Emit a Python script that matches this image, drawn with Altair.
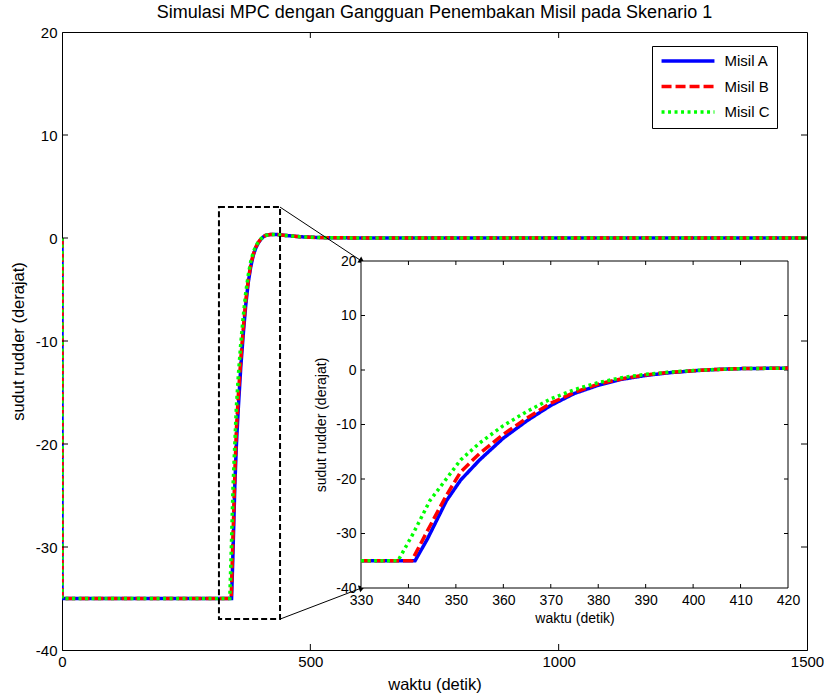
import altair as alt
import pandas as pd

# ---------------- data ----------------
series_names = ["Misil A", "Misil B", "Misil C"]
series_colors = ["#0000ff", "#ff0000", "#00ff00"]
series_dash = [[1, 0], [10, 4], [3, 3.5]]

t_A = [0, 0, 330, 341.4, 344, 348, 351, 355, 360, 365, 370, 375, 380, 385, 390, 395, 400, 405, 410, 420, 430, 450, 480, 520, 600, 1500]
v_A = [0, -35, -35, -35, -31, -24, -20.2, -16.5, -12.5, -9.3, -6.5, -4.3, -2.8, -1.7, -1.0, -0.5, -0.15, 0.1, 0.25, 0.35, 0.35, 0.25, 0.12, 0.04, 0, 0]
t_B = [0, 0, 330, 340.7, 344, 348, 351, 355, 360, 365, 370, 375, 380, 385, 390, 395, 400, 405, 410, 420, 430, 450, 480, 520, 600, 1500]
v_B = [0, -35, -35, -35, -29.5, -23, -18.7, -15.3, -11.8, -8.8, -6.1, -4.1, -2.6, -1.6, -0.9, -0.45, -0.12, 0.1, 0.25, 0.35, 0.35, 0.25, 0.12, 0.04, 0, 0]
t_C = [0, 0, 330, 337.8, 341, 344.5, 351, 355, 360, 365, 370, 375, 380, 385, 390, 395, 400, 405, 410, 420, 430, 450, 480, 520, 600, 1500]
v_C = [0, -35, -35, -35, -30, -24, -16.5, -13.4, -10.2, -7.6, -5.3, -3.6, -2.3, -1.4, -0.8, -0.4, -0.1, 0.1, 0.25, 0.35, 0.35, 0.25, 0.12, 0.04, 0, 0]

main_x_ticks = [0, 500, 1000, 1500]
main_y_ticks = [-40, -30, -20, -10, 0, 10, 20]
main_x_inner = [500, 1000]
main_y_inner = [-30, -20, -10, 0, 10]

inset_x_ticks = [330, 340, 350, 360, 370, 380, 390, 400, 410, 420]
inset_y_ticks = [-40, -30, -20, -10, 0, 10, 20]
inset_x_inner = [340, 350, 360, 370, 380, 390, 400, 410]
inset_y_inner = [-30, -20, -10, 0, 10]

zoom_box_t = [316, 439]
zoom_box_v = [-37, 3]
arrow_t0 = [439, 439]
arrow_v0 = [3, -37]
arrow_t1 = [602, 602]
arrow_v1 = [-2.2, -34.0]
arrow_angle = [123, 70]

title_text = "Simulasi MPC dengan Gangguan Penembakan Misil pada Skenario 1"

# ---------------- tables ----------------
rows = []
for name, ts, vs in zip(series_names, [t_A, t_B, t_C], [v_A, v_B, v_C]):
    for i, (t, v) in enumerate(zip(ts, vs)):
        rows.append({"series": name, "t": t, "v": v, "i": i})
df = pd.DataFrame(rows)
df_inset = df[(df.t >= 330) & (df.t <= 420)]

W, H = 745, 618
FONT = "Liberation Sans"
NUM = "'' + datum.value"

color_enc = alt.Color(
    "series:N",
    scale=alt.Scale(domain=series_names, range=series_colors),
    legend=alt.Legend(
        title=None, orient="none", legendX=590, legendY=14,
        symbolType="stroke", symbolSize=2800, symbolStrokeWidth=3.5,
        clipHeight=15,
        labelFontSize=15, labelFont=FONT, labelColor="black",
        labelExpr="datum.label + '\\u00a0\\u00a0\\u00a0'",
        strokeColor="black", fillColor="white", padding=7.5,
        rowPadding=9.5, labelOffset=8, cornerRadius=0,
    ),
)
dash_enc = alt.StrokeDash(
    "series:N", scale=alt.Scale(domain=series_names, range=series_dash), legend=None
)

# ---------------- main chart ----------------
mx_scale = alt.Scale(domain=[0, 1500], nice=False, zero=False)
my_scale = alt.Scale(domain=[-40, 20], nice=False, zero=False)

main_lines = alt.Chart(df).mark_line(strokeWidth=3.5, clip=True).encode(
    x=alt.X("t:Q", scale=mx_scale, axis=alt.Axis(
        values=main_x_ticks, title="waktu (detik)", ticks=False, labelFlush=False,
        labelOverlap=False, labelExpr=NUM, labelFontSize=15, titleFontSize=16.5,
        labelPadding=4, titlePadding=7, zindex=0, grid=False)),
    y=alt.Y("v:Q", scale=my_scale, axis=alt.Axis(
        values=main_y_ticks, title="sudut rudder (derajat)", ticks=False, labelFlush=False,
        labelOverlap=False, labelExpr=NUM, labelFontSize=15, titleFontSize=16.5,
        labelPadding=5, titlePadding=9, zindex=0, grid=False)),
    color=color_enc,
    strokeDash=dash_enc,
    order="i:Q",
)

mxt = pd.DataFrame({"t": main_x_inner})
myt = pd.DataFrame({"v": main_y_inner})
tick_bottom = alt.Chart(mxt).mark_rule(color="black", y2Offset=-6).encode(
    x="t:Q", y=alt.datum(-40), y2=alt.datum(-40))
tick_top = alt.Chart(mxt).mark_rule(color="black", y2Offset=6).encode(
    x="t:Q", y=alt.datum(20), y2=alt.datum(20))
tick_left = alt.Chart(myt).mark_rule(color="black", x2Offset=6).encode(
    y="v:Q", x=alt.datum(0), x2=alt.datum(0))
tick_right = alt.Chart(myt).mark_rule(color="black", x2Offset=-6).encode(
    y="v:Q", x=alt.datum(1500), x2=alt.datum(1500))

box_df = pd.DataFrame({"t": [zoom_box_t[0]], "t2": [zoom_box_t[1]],
                       "v": [zoom_box_v[0]], "v2": [zoom_box_v[1]]})
zoom_box = alt.Chart(box_df).mark_rect(
    fill=None, fillOpacity=0, stroke="black", strokeWidth=2, strokeDash=[6, 3]
).encode(x="t:Q", x2="t2:Q", y="v:Q", y2="v2:Q")

arr_df = pd.DataFrame({"t": arrow_t0, "v": arrow_v0, "t2": arrow_t1, "v2": arrow_v1,
                       "ang": arrow_angle})
arrows = alt.Chart(arr_df).mark_rule(color="black", strokeWidth=1).encode(
    x="t:Q", y="v:Q", x2="t2:Q", y2="v2:Q")
heads = alt.Chart(arr_df).mark_point(
    shape="triangle", filled=True, color="black", size=50, opacity=1
).encode(x="t2:Q", y="v2:Q", angle=alt.Angle("ang:Q", scale=None))

main = alt.layer(main_lines, tick_bottom, tick_top, tick_left, tick_right,
                 zoom_box, arrows, heads)

# ---------------- inset ----------------
ix_scale = alt.Scale(domain=[330, 420], range=[299, 726], nice=False, zero=False)
iy_scale = alt.Scale(domain=[-40, 20], range=[556, 229], nice=False, zero=False)

inset_bg = alt.Chart(pd.DataFrame({"a": [0]})).mark_rect(
    fill="white", stroke="black", strokeWidth=1
).encode(x=alt.datum(330), x2=alt.datum(420), y=alt.datum(-40), y2=alt.datum(20))

inset_lines = alt.Chart(df_inset).mark_line(strokeWidth=3.5).encode(
    x=alt.X("t:Q", scale=ix_scale, axis=alt.Axis(
        orient="bottom", offset=-62, values=inset_x_ticks, title="waktu (detik)",
        ticks=False, labelFlush=False, labelOverlap=False, labelExpr=NUM,
        labelFontSize=14, titleFontSize=14, labelPadding=5, titlePadding=4,
        zindex=2, grid=False, domain=False)),
    y=alt.Y("v:Q", scale=iy_scale, axis=alt.Axis(
        orient="left", offset=-299, values=inset_y_ticks, title="sudut rudder (derajat)",
        ticks=False, labelFlush=False, labelOverlap=False, labelExpr=NUM,
        labelFontSize=14, titleFontSize=14, labelPadding=5, titlePadding=7,
        zindex=2, grid=False, domain=False)),
    color=color_enc,
    strokeDash=dash_enc,
    order="i:Q",
)

ixt = pd.DataFrame({"t": inset_x_inner})
iyt = pd.DataFrame({"v": inset_y_inner})
itick_bottom = alt.Chart(ixt).mark_rule(color="black", y2Offset=-4).encode(
    x="t:Q", y=alt.datum(-40), y2=alt.datum(-40))
itick_top = alt.Chart(ixt).mark_rule(color="black", y2Offset=4).encode(
    x="t:Q", y=alt.datum(20), y2=alt.datum(20))
itick_left = alt.Chart(iyt).mark_rule(color="black", x2Offset=4).encode(
    y="v:Q", x=alt.datum(330), x2=alt.datum(330))
itick_right = alt.Chart(iyt).mark_rule(color="black", x2Offset=-4).encode(
    y="v:Q", x=alt.datum(420), x2=alt.datum(420))

inset = alt.layer(inset_bg, itick_bottom, itick_top, itick_left, itick_right, inset_lines)

chart = alt.layer(main, inset).resolve_scale(
    x="independent", y="independent"
).properties(
    width=W, height=H,
    title=alt.TitleParams(title_text, fontSize=18, fontWeight="normal", anchor="middle",
                          offset=3, color="black", font=FONT),
    autosize=alt.AutoSizeParams(type="none"),
    padding={"left": 62, "top": 32, "right": 17, "bottom": 46},
    background="white",
).configure(font=FONT).configure_view(
    stroke="black", strokeWidth=1
).configure_axis(
    domainColor="black", labelColor="black", titleColor="black",
    labelFont=FONT, titleFont=FONT, titleFontWeight="normal",
)

chart.save("out.html", embed_options={"renderer": "svg", "actions": False})
